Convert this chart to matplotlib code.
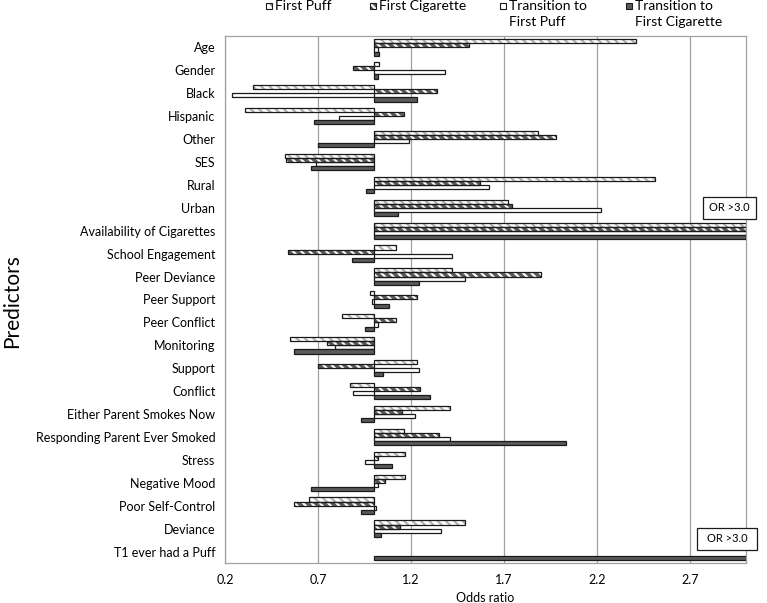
import numpy as np
import matplotlib
matplotlib.use("Agg")
import matplotlib.pyplot as plt
from matplotlib.patches import Rectangle

plt.rcParams['font.family'] = ['Lato', 'DejaVu Sans']
plt.rcParams['hatch.linewidth'] = 1.6

categories = ["Age", "Gender", "Black", "Hispanic", "Other", "SES", "Rural", "Urban",
              "Availability of Cigarettes", "School Engagement", "Peer Deviance",
              "Peer Support", "Peer Conflict", "Monitoring", "Support", "Conflict",
              "Either Parent Smokes Now", "Responding Parent Ever Smoked", "Stress",
              "Negative Mood", "Poor Self-Control", "Deviance", "T1 ever had a Puff"]

first_puff = [2.41, 1.03, 0.35, 0.31, 1.88, 0.52, 2.51, 1.72, 3.0, 1.12, 1.42, 0.98,
              0.83, 0.55, 1.23, 0.87, 1.41, 1.16, 1.17, 1.17, 0.65, 1.49, np.nan]
first_cig = [1.51, 0.89, 1.34, 1.16, 1.98, 0.53, 1.57, 1.74, 3.0, 0.54, 1.90, 1.23,
             1.12, 0.75, 0.70, 1.25, 1.15, 1.35, 1.02, 1.06, 0.57, 1.14, np.nan]
trans_puff = [1.02, 1.38, 0.24, 0.81, 1.19, 0.69, 1.62, 2.22, 3.0, 1.42, 1.49, 0.99,
              1.02, 0.79, 1.24, 0.89, 1.22, 1.41, 0.95, 1.02, 1.01, 1.36, np.nan]
trans_cig = [1.03, 1.02, 1.23, 0.68, 0.70, 0.66, 0.96, 1.13, 3.0, 0.88, 1.24, 1.08,
             0.95, 0.57, 1.05, 1.30, 0.93, 2.03, 1.10, 0.66, 0.93, 1.04, 3.0]

series_names = [["First Puff"], ["First Cigarette"], ["Transition to", "First Puff"],
                ["Transition to", "First Cigarette"]]
xticks = [0.2, 0.7, 1.2, 1.7, 2.2, 2.7]

W, H = 767, 603
fig = plt.figure(figsize=(W / 100, H / 100), dpi=100)
ax = fig.add_axes([225 / W, (H - 563) / H, (746 - 225) / W, (563 - 36) / H])

y = np.arange(len(categories))
h = 0.18
offsets = [-0.27, -0.09, 0.09, 0.27]
styles = [
    dict(fc='white', hc='#b0b0b0', hatch='\\\\\\\\'),
    dict(fc='#5a5a5a', hc='white', hatch='\\\\\\\\'),
    dict(fc='white', hc=None, hatch=None),
    dict(fc='#5a5a5a', hc=None, hatch=None),
]
base = 1.0
for vals, off, st in zip([first_puff, first_cig, trans_puff, trans_cig], offsets, styles):
    v = np.array(vals, dtype=float)
    w = v - base
    if st['hatch']:
        ax.barh(y + off, w, left=base, height=h, color=st['fc'], edgecolor=st['hc'],
                hatch=st['hatch'], linewidth=0, zorder=3)
        ax.barh(y + off, w, left=base, height=h, fill=False, edgecolor='#1a1a1a',
                linewidth=0.9, zorder=4)
    else:
        ax.barh(y + off, w, left=base, height=h, color=st['fc'], edgecolor='#1a1a1a',
                linewidth=0.9, zorder=3)

ax.set_xlim(0.2, 3.0)
ax.set_ylim(len(categories) - 0.5, -0.5)
ax.set_xticks(xticks)
ax.set_xticklabels([f"{t:.1f}" for t in xticks], fontsize=9)
ax.set_yticks(y)
ax.set_yticklabels(categories, fontsize=9)
ax.tick_params(axis='y', length=0, pad=7)
ax.tick_params(axis='x', length=0, pad=8)
ax.grid(axis='x', color='#a0a0a0', linewidth=0.9, zorder=0)
ax.set_axisbelow(True)
for s in ax.spines.values():
    s.set_color('#a0a0a0')
    s.set_linewidth(0.9)

ax.set_xlabel("Odds ratio", fontsize=9, labelpad=4)
fig.text(0.016, 0.5, "Predictors", rotation=90, fontsize=15, va='center', ha='center')

# "OR >3.0" callout boxes (axes fraction coordinates)
for (x0, x1, y0, y1) in [(0.9175, 1.019, 0.653, 0.6945), (0.906, 1.021, 0.0247, 0.0664)]:
    ax.add_patch(Rectangle((x0, y0), x1 - x0, y1 - y0, transform=ax.transAxes,
                           fc='white', ec='#1a1a1a', lw=0.9, clip_on=False, zorder=6))
    ax.text((x0 + x1) / 2, (y0 + y1) / 2, "OR >3.0", transform=ax.transAxes,
            fontsize=8, ha='center', va='center', clip_on=False, zorder=7)

# Legend drawn at the top of the figure
leg_sq_x = [266, 370, 500, 626]
leg_tx_x = [275, 379, 509, 635]
leg_styles = [
    dict(fc='white', hc='#909090', hatch='\\\\\\'),
    dict(fc='#5a5a5a', hc='white', hatch='\\\\\\'),
    dict(fc='white', hc=None, hatch=None),
    dict(fc='#5a5a5a', hc=None, hatch=None),
]
sq = 6.0
sq_bottom = 9.2
for sx, tx, lines, st in zip(leg_sq_x, leg_tx_x, series_names, leg_styles):
    rect_kw = dict(transform=fig.transFigure)
    if st['hatch']:
        fig.add_artist(Rectangle((sx / W, 1 - sq_bottom / H), sq / W, sq / H, fc=st['fc'],
                                 ec=st['hc'], hatch=st['hatch'], lw=0, **rect_kw))
        fig.add_artist(Rectangle((sx / W, 1 - sq_bottom / H), sq / W, sq / H, fill=False,
                                 ec='#1a1a1a', lw=0.8, **rect_kw))
    else:
        fig.add_artist(Rectangle((sx / W, 1 - sq_bottom / H), sq / W, sq / H, fc=st['fc'],
                                 ec='#1a1a1a', lw=0.8, **rect_kw))
    for i, line in enumerate(lines):
        fig.text(tx / W, 1 - (10.0 + 16.5 * i) / H, line, fontsize=10,
                 ha='left', va='baseline')

fig.savefig("out.png", dpi=100)
